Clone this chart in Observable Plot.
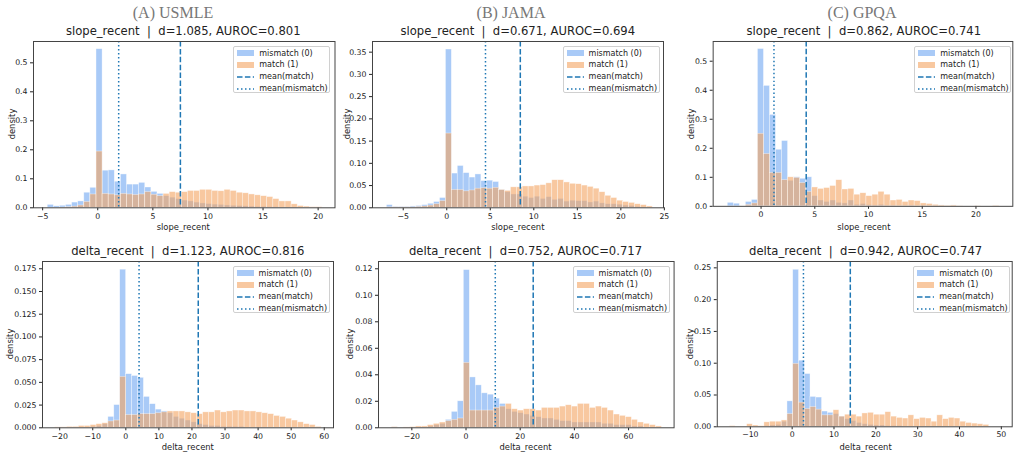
<!DOCTYPE html>
<html><head><meta charset="utf-8">
<script src="https://cdn.jsdelivr.net/npm/d3@7"></script>
<script src="https://cdn.jsdelivr.net/npm/@observablehq/plot@0.6"></script>
<style>
html,body{margin:0;padding:0;background:#fff;}
body{width:1014px;height:452px;overflow:hidden;position:relative;font-family:"DejaVu Sans",sans-serif;color:#222;}
.abs{position:absolute;line-height:1;white-space:pre;transform:translate(-50%,-50%);}
.hdr{font-family:"Liberation Serif","DejaVu Serif",serif;font-size:16px;color:#777;}
.ttl{font-size:11.6px;color:#222;}
.xl{font-size:8.4px;color:#222;}
.yl{font-size:8.4px;color:#222;transform:translate(-50%,-50%) rotate(-90deg);}
.plot{position:absolute;}
.plot svg{overflow:visible;}
.leg{position:absolute;width:97px;height:47px;border:1px solid #d0d0d0;border-radius:2px;background:rgba(255,255,255,0.8);box-sizing:border-box;font-size:8px;}
.row{position:absolute;left:3px;height:11.8px;display:flex;align-items:center;white-space:pre;}
.sw{width:17px;height:5.5px;margin-right:5px;}
</style></head><body>
<script>
// ---- data (density per bin, 45 equal bins per panel) ----
const binCount = 45;
const binLo = {usmleSlope:-4.54, jamaSlope:-6.88, gpqaSlope:-3.1, usmleDelta:-21.4, jamaDelta:-27.4, gpqaDelta:-14.9};
const binHi = {usmleSlope:20.36, jamaSlope:23.66, gpqaSlope:22.15, usmleDelta:59.2, jamaDelta:72.3, gpqaDelta:47.1};

const usmleSlopeMismatch = [0.010,0.005,0.007,0.010,0.018,0.022,0.052,0.069,0.547,0.128,0.129,0.090,0.115,0.080,0.080,0.086,0.070,0.055,0.048,0.040,0.035,0.030,0.025,0.022,0.018,0.015,0.013,0.011,0.010,0.008,0.007,0.006,0.005,0.004,0.003,0.003,0.002,0.002,0.001,0.001,0.001,0,0,0,0];
const usmleSlopeMatch = [0,0,0.001,0.002,0.004,0.008,0.020,0.046,0.194,0.048,0.046,0.043,0.048,0.046,0.044,0.046,0.054,0.045,0.040,0.048,0.054,0.052,0.054,0.058,0.058,0.062,0.062,0.058,0.057,0.062,0.058,0.052,0.050,0.046,0.043,0.040,0.037,0.030,0.022,0.022,0.012,0.006,0.004,0.002,0.002];

const jamaSlopeMismatch = [0.006,0.002,0.002,0.002,0.003,0.004,0.006,0.009,0.013,0.022,0.356,0.077,0.094,0.078,0.068,0.075,0.060,0.061,0.058,0.040,0.035,0.030,0.030,0.025,0.022,0.025,0.020,0.024,0.018,0.020,0.014,0.016,0.015,0.015,0.012,0.014,0.010,0.008,0.008,0.007,0.005,0.004,0.002,0.001,0];
const jamaSlopeMatch = [0.001,0.001,0.001,0.001,0.001,0.002,0.003,0.005,0.008,0.015,0.167,0.040,0.040,0.037,0.039,0.043,0.044,0.043,0.045,0.040,0.038,0.046,0.046,0.048,0.048,0.050,0.051,0.055,0.062,0.062,0.057,0.054,0.053,0.050,0.047,0.043,0.035,0.027,0.022,0.016,0.013,0.011,0.008,0.006,0.003];

const gpqaSlopeMismatch = [0.012,0.009,0,0.015,0.022,0.542,0.415,0.315,0.195,0.225,0.088,0.100,0.095,0.100,0.035,0.020,0.015,0.020,0.012,0.010,0.020,0.005,0.008,0.004,0.003,0.005,0.002,0.002,0.001,0.001,0.002,0,0,0,0,0,0,0,0,0,0,0,0,0,0];
const gpqaSlopeMatch = [0,0,0,0.005,0.010,0.250,0.180,0.115,0.115,0.090,0.100,0.098,0.080,0.050,0.065,0.060,0.063,0.070,0.090,0.058,0.060,0.040,0.045,0.035,0.040,0.050,0.040,0.020,0.022,0.015,0.020,0.018,0.010,0.008,0.005,0.003,0.002,0.003,0.001,0,0,0.001,0,0,0.002];

const usmleDeltaMismatch = [0,0,0,0,0,0,0.001,0.002,0.004,0.012,0.025,0.174,0.059,0.057,0.055,0.034,0.026,0.020,0.018,0.016,0.012,0.010,0.008,0.006,0.004,0.003,0.002,0.002,0.001,0.001,0.001,0.001,0,0,0,0,0,0,0,0,0,0,0,0,0];
const usmleDeltaMatch = [0.0005,0.0005,0.001,0.001,0.002,0.002,0.003,0.004,0.005,0.007,0.008,0.056,0.014,0.014,0.015,0.015,0.015,0.016,0.017,0.018,0.018,0.018,0.017,0.016,0.015,0.017,0.017,0.019,0.017,0.018,0.019,0.019,0.018,0.018,0.017,0.016,0.015,0.013,0.012,0.010,0.008,0.006,0.004,0.003,0.001];

const jamaDeltaMismatch = [0.0003,0,0,0,0,0,0.001,0.002,0.003,0.006,0.012,0.020,0.119,0.038,0.032,0.026,0.025,0.022,0.018,0.014,0.012,0.011,0.010,0.009,0.008,0.007,0.007,0.006,0.005,0.005,0.004,0.004,0.004,0.004,0.004,0.003,0.003,0.002,0.002,0.002,0.001,0.001,0,0,0];
const jamaDeltaMatch = [0.0005,0,0.0003,0.0005,0.001,0.001,0.002,0.003,0.004,0.005,0.006,0.007,0.049,0.013,0.013,0.013,0.013,0.015,0.016,0.018,0.014,0.013,0.014,0.014,0.013,0.015,0.015,0.015,0.016,0.017,0.016,0.018,0.018,0.015,0.016,0.015,0.013,0.010,0.009,0.008,0.006,0.004,0.003,0.002,0.001];

const gpqaDeltaMismatch = [0,0,0,0,0,0,0.001,0.002,0.003,0.008,0.040,0.247,0.104,0.083,0.047,0.046,0.024,0.022,0.020,0.016,0.012,0.009,0.006,0.004,0.003,0.002,0.002,0.001,0.001,0.001,0,0,0,0,0,0,0,0,0,0,0,0,0,0,0];
const gpqaDeltaMatch = [0.001,0,0,0.004,0.002,0.001,0.007,0.008,0.008,0.010,0.020,0.099,0.038,0.028,0.031,0.027,0.018,0.018,0.026,0.016,0.019,0.019,0.016,0.021,0.022,0.019,0.019,0.023,0.016,0.014,0.013,0.018,0.012,0.014,0.013,0.008,0.018,0.012,0.014,0.013,0.008,0.006,0.005,0.004,0.003];

// means (dashed = match, dotted = mismatch)
const meanMatch = {usmleSlope:7.5, jamaSlope:8.45, gpqaSlope:4.2, usmleDelta:21.9, jamaDelta:24.8, gpqaDelta:13.9};
const meanMismatch = {usmleSlope:1.9, jamaSlope:4.45, gpqaSlope:1.2, usmleDelta:4.0, jamaDelta:10.8, gpqaDelta:2.7};

const columnTitles = ["(A) USMLE", "(B) JAMA", "(C) GPQA"];
const panelTitles = {
  usmleSlope:"slope_recent  |  d=1.085, AUROC=0.801",
  jamaSlope:"slope_recent  |  d=0.671, AUROC=0.694",
  gpqaSlope:"slope_recent  |  d=0.862, AUROC=0.741",
  usmleDelta:"delta_recent  |  d=1.123, AUROC=0.816",
  jamaDelta:"delta_recent  |  d=0.752, AUROC=0.717",
  gpqaDelta:"delta_recent  |  d=0.942, AUROC=0.747"
};
const legendLabels = ["mismatch (0)", "match (1)", "mean(match)", "mean(mismatch)"];

const xTicks = {
  usmleSlope:[-5,0,5,10,15,20], jamaSlope:[-5,0,5,10,15,20,25], gpqaSlope:[0,5,10,15,20],
  usmleDelta:[-20,-10,0,10,20,30,40,50,60], jamaDelta:[-20,0,20,40,60], gpqaDelta:[-10,0,10,20,30,40,50]
};
const yTicks = {
  usmleSlope:[0,0.1,0.2,0.3,0.4,0.5], jamaSlope:[0,0.05,0.1,0.15,0.2,0.25,0.3,0.35], gpqaSlope:[0,0.1,0.2,0.3,0.4,0.5],
  usmleDelta:[0,0.025,0.05,0.075,0.1,0.125,0.15,0.175], jamaDelta:[0,0.02,0.04,0.06,0.08,0.1,0.12], gpqaDelta:[0,0.05,0.1,0.15,0.2,0.25]
};

// ---- layout ----
const BLUE = "#6fa6f2", ORANGE = "#f4a460", LINE = "#1f77b4";
const layout = [
  {key:"usmleSlope", mis:usmleSlopeMismatch, mat:usmleSlopeMatch, frame:[32.5,334,41,207.3], x:[-5.83,21.53], y:[0,0.5735], yf:".1f", xlab:"slope_recent", ylx:12},
  {key:"jamaSlope", mis:jamaSlopeMismatch, mat:jamaSlopeMatch, frame:[372.3,663.3,41,207.3], x:[-8.53,24.9], y:[0,0.374], yf:".2f", xlab:"slope_recent", ylx:346.7},
  {key:"gpqaSlope", mis:gpqaSlopeMismatch, mat:gpqaSlopeMatch, frame:[712.7,1015,41,207.3], x:[-4.46,23.43], y:[0,0.568], yf:".1f", xlab:"slope_recent", ylx:690.5},
  {key:"usmleDelta", mis:usmleDeltaMismatch, mat:usmleDeltaMatch, frame:[42.3,333.3,261,427.3], x:[-25.2,62.8], y:[0,0.183], yf:".3f", xlab:"delta_recent", ylx:10},
  {key:"jamaDelta", mis:jamaDeltaMismatch, mat:jamaDeltaMatch, frame:[377.7,673.3,261,427.3], x:[-32.3,76.8], y:[0,0.1255], yf:".2f", xlab:"delta_recent", ylx:350},
  {key:"gpqaDelta", mis:gpqaDeltaMismatch, mat:gpqaDeltaMatch, frame:[717.3,1014,261,427.3], x:[-17.9,52.6], y:[0,0.26], yf:".2f", xlab:"delta_recent", ylx:690}
];
const headerPos = [[173,13],[511,13],[862,13]];

function addText(cls, txt, x, y){
  const d = document.createElement("div");
  d.className = "abs " + cls; d.textContent = txt;
  d.style.left = x + "px"; d.style.top = y + "px";
  document.body.appendChild(d);
}

columnTitles.forEach((t,i)=>addText("hdr", t, headerPos[i][0], headerPos[i][1]));

const ML = 40, MR = 2, MT = 2, MB = 16;
for (const p of layout) {
  const [fl, fr, ft, fb] = p.frame;
  const lo = binLo[p.key], w = (binHi[p.key] - binLo[p.key]) / binCount;
  const bins = (arr) => arr.map((v,i)=>({x1: lo + i*w, x2: lo + (i+1)*w, y: v}));
  const chart = Plot.plot({
    width: (fr - fl) + ML + MR, height: (fb - ft) + MT + MB,
    marginLeft: ML, marginRight: MR, marginTop: MT, marginBottom: MB,
    style: {fontFamily: "DejaVu Sans, sans-serif", fontSize: "7.8px", color: "#222", background: "transparent"},
    x: {domain: p.x, ticks: xTicks[p.key], tickFormat: d3.format("d"), tickSize: 3, tickPadding: 2.2, label: null},
    y: {domain: p.y, ticks: yTicks[p.key], tickFormat: d3.format(p.yf), tickSize: 3, tickPadding: 3, label: null},
    marks: [
      Plot.rect(bins(p.mis), {x1:"x1", x2:"x2", y1:0, y2:"y", fill: BLUE, fillOpacity: 0.6, stroke:"white", strokeWidth:0.6, strokeOpacity:0.6}),
      Plot.rect(bins(p.mat), {x1:"x1", x2:"x2", y1:0, y2:"y", fill: ORANGE, fillOpacity: 0.6, stroke:"white", strokeWidth:0.6, strokeOpacity:0.6}),
      Plot.ruleX([meanMatch[p.key]], {stroke: LINE, strokeWidth: 1.5, strokeDasharray: "5.5,2.4"}),
      Plot.ruleX([meanMismatch[p.key]], {stroke: LINE, strokeWidth: 1.5, strokeDasharray: "1.5,2.5"}),
      Plot.frame({stroke: "#444", strokeWidth: 1})
    ]
  });
  const holder = document.createElement("div");
  holder.className = "plot";
  holder.style.left = (fl - ML) + "px"; holder.style.top = (ft - MT) + "px";
  holder.appendChild(chart);
  document.body.appendChild(holder);

  addText("ttl", panelTitles[p.key], (fl + fr)/2, ft - 9);
  addText("xl", p.xlab, (fl + fr)/2, fb + 19.5);
  addText("yl", "density", p.ylx, (ft + fb)/2);

  // legend
  const leg = document.createElement("div");
  leg.className = "leg";
  leg.style.left = (fr - 100.7) + "px"; leg.style.top = (ft + 5) + "px";
  legendLabels.forEach((lab, i) => {
    const r = document.createElement("div");
    r.className = "row"; r.style.top = (0.3 + i*11.8) + "px";
    let sw;
    if (i < 2) {
      sw = document.createElement("div"); sw.className = "sw";
      sw.style.background = i === 0 ? BLUE : ORANGE; sw.style.opacity = 0.6;
    } else {
      sw = document.createElementNS("http://www.w3.org/2000/svg","svg");
      sw.setAttribute("width","17"); sw.setAttribute("height","6"); sw.style.marginRight = "5px";
      const ln = document.createElementNS("http://www.w3.org/2000/svg","line");
      ln.setAttribute("x1","0"); ln.setAttribute("x2","17"); ln.setAttribute("y1","3"); ln.setAttribute("y2","3");
      ln.setAttribute("stroke", LINE); ln.setAttribute("stroke-width","1.5");
      ln.setAttribute("stroke-dasharray", i === 2 ? "5.5,2.4" : "1.5,2.5");
      sw.appendChild(ln);
    }
    r.appendChild(sw);
    const t = document.createElement("span"); t.textContent = lab; r.appendChild(t);
    leg.appendChild(r);
  });
  document.body.appendChild(leg);
}
</script>
</body></html>
